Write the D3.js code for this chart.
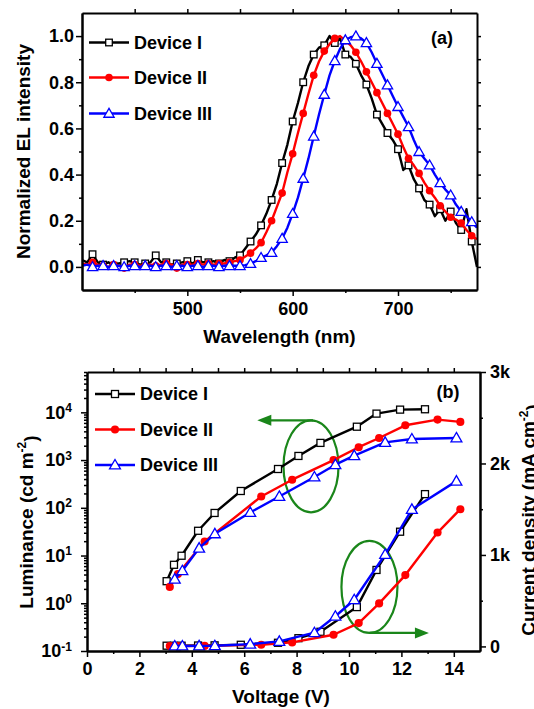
<!DOCTYPE html>
<html>
<head>
<meta charset="utf-8">
<title>EL spectra and L-J-V</title>
<style>
  body, html { margin: 0; padding: 0; background: #fff; }
  svg text { font-family: "Liberation Sans", Arial, sans-serif; font-weight: bold; }
</style>
</head>
<body>
<svg id="svg" width="534" height="709"></svg>
<script src="https://d3js.org/d3.v7.min.js"></script>
<script>
// ---------- data, panel (a): normalized EL spectra ----------
const wavelength = [400, 405, 410, 415, 420, 425, 430, 435, 440, 445, 450, 455, 460, 465, 470, 475,
  480, 485, 490, 495, 500, 505, 510, 515, 520, 525, 530, 535, 540, 545, 550, 555, 560, 565, 570, 575,
  580, 585, 590, 595, 600, 605, 610, 615, 620, 625, 630, 635, 640, 645, 650, 655, 660, 665, 670, 675,
  680, 685, 690, 695, 700, 705, 710, 715, 720, 725, 730, 735, 740, 745, 750, 755, 760, 765, 770, 775]
const dev1EL = [0.03, 0.02, 0.055, 0.02, 0.01, 0.02, 0.005, 0.015, 0.02, 0.025, 0.02, 0.01, 0.015, 0.02, 0.05, 0.02,
  0.02, 0.01, 0.015, 0.02, 0.025, 0.015, 0.03, 0.02, 0.02, 0.025, 0.015, 0.03, 0.025, 0.04, 0.05, 0.08, 0.11, 0.14, 0.18, 0.23,
  0.29, 0.36, 0.45, 0.53, 0.63, 0.71, 0.80, 0.87, 0.92, 0.95, 0.96, 1.0, 0.97, 0.99, 0.92, 0.91, 0.88, 0.83, 0.79, 0.73,
  0.66, 0.62, 0.58, 0.55, 0.51, 0.42, 0.44, 0.38, 0.34, 0.29, 0.27, 0.22, 0.25, 0.20, 0.24, 0.19, 0.16, 0.25, 0.11, 0.0]
const dev2EL = [0.015, 0.01, 0.02, 0.01, 0.005, 0.0, 0.01, 0.005, -0.005, 0.01, 0.01, 0.005, 0.005, 0.01, 0.005, 0.01,
  0.015, 0.01, -0.005, 0.01, 0.01, 0.01, 0.015, 0.01, 0.015, 0.01, 0.015, 0.015, 0.02, 0.025, 0.03, 0.045, 0.06, 0.08, 0.105, 0.15,
  0.2, 0.26, 0.32, 0.41, 0.49, 0.58, 0.665, 0.75, 0.83, 0.89, 0.935, 0.965, 0.99, 1.0, 0.98, 0.96, 0.93, 0.89, 0.845, 0.8,
  0.755, 0.71, 0.665, 0.62, 0.575, 0.52, 0.47, 0.44, 0.405, 0.365, 0.33, 0.3, 0.265, 0.24, 0.215, 0.205, 0.19, 0.16, 0.135, 0.12]
const dev3EL = [0.005, 0.01, 0.0, 0.005, 0.005, 0.0, 0.005, 0.005, 0.0, 0.005, 0.005, 0.0, 0.005, 0.005, 0.0, 0.005,
  0.005, 0.0, 0.005, 0.005, 0.0, 0.005, 0.005, 0.0, 0.005, 0.005, 0.0, 0.005, 0.005, 0.005, 0.005, 0.008, 0.014, 0.025, 0.04, 0.05,
  0.062, 0.09, 0.123, 0.17, 0.231, 0.3, 0.383, 0.47, 0.566, 0.66, 0.747, 0.83, 0.893, 0.945, 0.983, 0.995, 1.0, 0.99, 0.971, 0.93,
  0.881, 0.835, 0.788, 0.74, 0.694, 0.65, 0.607, 0.55, 0.499, 0.47, 0.441, 0.4, 0.364, 0.335, 0.311, 0.27, 0.24, 0.22, 0.195, 0.17]

// ---------- data, panel (b): luminance & current density vs voltage ----------
const dev1V = [3.04, 3.32, 3.61, 4.24, 4.87, 5.87, 7.29, 8.07, 8.91, 10.3, 11.05, 11.95, 12.9]
const dev1L = [2.9, 6.4, 9.9, 33, 78, 225, 650, 1220, 2290, 5000, 9400, 11400, 11600]
const dev1J = [8, 8, 8, 10, 12, 18, 40, 90, 160, 430, 836, 1254, 1665]

const dev2V = [3.16, 3.47, 4.49, 6.65, 7.83, 9.41, 10.37, 11.15, 12.15, 13.38, 14.25]
const dev2L = [2.2, 4.1, 19.7, 173, 388, 1000, 1860, 2900, 5350, 7050, 6300]
const dev2J = [5, 5, 6, 18, 44, 128, 255, 470, 780, 1245, 1500]

const dev3V = [3.35, 3.64, 4.28, 4.88, 6.23, 7.34, 8.68, 9.48, 10.2, 11.38, 12.4, 14.1]
const dev3L = [3.2, 4.8, 14.3, 28.5, 80, 173, 442, 800, 1240, 2350, 2760, 2910]
const dev3J = [5, 5, 6, 8, 25, 55, 150, 330, 510, 1005, 1498, 1807]

const deviceNames = ['Device I', 'Device II', 'Device III']
const elTicks = [0, 0.2, 0.4, 0.6, 0.8, 1.0]
const wlTicks = [500, 600, 700]
const voltTicks = [0, 2, 4, 6, 8, 10, 12, 14]
const lumTicks = [0.1, 1, 10, 100, 1000, 10000]
const jTicks = [0, 1000, 2000, 3000]
const jTickLabels = ['0', '1k', '2k', '3k']

// ---------- drawing ----------
const colors = ['#000000', '#ff0000', '#0000ff']
const shapes = ['square', 'circle', 'triangle']
const green = '#1a861a'
const svg = d3.select('#svg')

function styleAxis(ax, size) {
  ax.attr('font-family', '"Liberation Sans", Arial, sans-serif')
    .attr('font-size', size).attr('font-weight', 'bold')
  ax.select('.domain').attr('stroke-width', 2)
  ax.selectAll('.tick line').attr('stroke-width', 1.5)
  ax.selectAll('.tick text').attr('fill', '#000')
  return ax
}

function addMarker(g, shape, x, y, color, s) {
  if (shape === 'square') {
    g.append('rect').attr('x', x - s / 2).attr('y', y - s / 2).attr('width', s).attr('height', s)
      .attr('fill', '#fff').attr('stroke', color).attr('stroke-width', 1.3)
  } else if (shape === 'circle') {
    g.append('circle').attr('cx', x).attr('cy', y).attr('r', s * 0.58).attr('fill', color)
  } else {
    g.append('path').attr('d', d3.symbol(d3.symbolTriangle, s * s * 1.05)())
      .attr('transform', `translate(${x},${y + 0.8})`)
      .attr('fill', '#fff').attr('stroke', color).attr('stroke-width', 1.3)
  }
}

function legend(g, x0, x1, tx, rows, s) {
  deviceNames.forEach((name, i) => {
    g.append('line').attr('x1', x0).attr('x2', x1).attr('y1', rows[i]).attr('y2', rows[i])
      .attr('stroke', colors[i]).attr('stroke-width', 2.5)
    addMarker(g, shapes[i], (x0 + x1) / 2, rows[i], colors[i], s)
    g.append('text').attr('x', tx).attr('y', rows[i]).attr('dy', '0.36em')
      .attr('font-size', 18).text(name)
  })
}

// ===== panel (a) =====
const pa = { left: 82, right: 477, top: 13, bottom: 290 }
const xA = d3.scaleLinear().domain([400, 775]).range([pa.left, pa.right])
const yA = d3.scaleLinear().domain([-0.1, 1.1]).range([pa.bottom, pa.top])
const gA = svg.append('g')

gA.append('clipPath').attr('id', 'clipA').append('rect')
  .attr('x', pa.left).attr('y', pa.top).attr('width', pa.right - pa.left).attr('height', pa.bottom - pa.top)

const elSeries = [dev1EL, dev2EL, dev3EL]
const plotA = gA.append('g').attr('clip-path', 'url(#clipA)')
const lineA = d3.line().x((d, i) => xA(wavelength[i])).y(d => yA(d))
elSeries.forEach((ser, k) => {
  plotA.append('path').datum(ser).attr('d', lineA)
    .attr('fill', 'none').attr('stroke', colors[k]).attr('stroke-width', 2.4).attr('stroke-linejoin', 'round')
  const mg = plotA.append('g')
  ser.forEach((v, i) => {
    const w = wavelength[i]
    if (w % 10 === 0 && w >= 410 && w <= 770) addMarker(mg, shapes[k], xA(w), yA(v), colors[k], 6.6)
  })
})

styleAxis(gA.append('g').attr('transform', `translate(0,${pa.bottom})`)
  .call(d3.axisBottom(xA).tickValues(wlTicks).tickSize(6).tickPadding(6).tickSizeOuter(0)), 18)
styleAxis(gA.append('g').attr('transform', `translate(0,${pa.bottom})`)
  .call(d3.axisBottom(xA).tickValues([450, 550, 650, 750]).tickSize(3).tickFormat('').tickSizeOuter(0)), 18)
styleAxis(gA.append('g').attr('transform', `translate(0,${pa.top})`)
  .call(d3.axisTop(xA).tickValues([450, 500, 550, 600, 650, 700, 750]).tickSize(4).tickFormat('').tickSizeOuter(0)), 18)
styleAxis(gA.append('g').attr('transform', `translate(${pa.left},0)`)
  .call(d3.axisLeft(yA).tickValues(elTicks).tickFormat(d3.format('.1f')).tickSize(6).tickPadding(2).tickSizeOuter(0)), 18)
styleAxis(gA.append('g').attr('transform', `translate(${pa.left},0)`)
  .call(d3.axisLeft(yA).tickValues([0.1, 0.3, 0.5, 0.7, 0.9]).tickSize(3).tickFormat('').tickSizeOuter(0)), 18)
styleAxis(gA.append('g').attr('transform', `translate(${pa.right},0)`)
  .call(d3.axisRight(yA).tickValues([0, 0.1, 0.2, 0.3, 0.4, 0.5, 0.6, 0.7, 0.8, 0.9, 1.0]).tickSize(4).tickFormat('').tickSizeOuter(0)), 18)

legend(gA, 89, 129, 134, [42.5, 77.5, 113.5], 6.6)
gA.append('text').attr('x', 442).attr('y', 44).attr('text-anchor', 'middle').attr('font-size', 18).text('(a)')
gA.append('text').attr('x', (pa.left + pa.right) / 2).attr('y', 343).attr('text-anchor', 'middle')
  .attr('font-size', 19).text('Wavelength (nm)')
gA.append('text').attr('transform', `translate(23,${(pa.top + pa.bottom) / 2}) rotate(-90)`)
  .attr('text-anchor', 'middle').attr('dy', '0.36em').attr('font-size', 19).text('Normalized EL intensity')

// ===== panel (b) =====
const pb = { left: 87, right: 480, top: 372, bottom: 651 }
const xB = d3.scaleLinear().domain([0, 15]).range([pb.left, pb.right])
const yL = d3.scaleLog().domain([0.1, 70000]).range([pb.bottom, pb.top])
const yJ = d3.scaleLinear().domain([-50, 3000]).range([pb.bottom, pb.top])
const gB = svg.append('g')

// green guide ellipses and arrows
const e1 = { cx: xB(8.55), cy: yL(740), rx: 27.5, ry: 46 }
const e2 = { cx: xB(10.78), cy: yJ(650), rx: 28, ry: 46 }
;[e1, e2].forEach(e => {
  gB.append('ellipse').attr('cx', e.cx).attr('cy', e.cy).attr('rx', e.rx).attr('ry', e.ry)
    .attr('fill', 'none').attr('stroke', green).attr('stroke-width', 2.2)
})
function arrow(x0, x1, y) {
  const dir = Math.sign(x1 - x0)
  gB.append('line').attr('x1', x0).attr('x2', x1 - dir * 10).attr('y1', y).attr('y2', y)
    .attr('stroke', green).attr('stroke-width', 2.2)
  gB.append('path').attr('d', `M${x1},${y} L${x1 - dir * 14},${y - 5.5} L${x1 - dir * 14},${y + 5.5} Z`)
    .attr('fill', green)
}
arrow(e1.cx + 2, xB(6.5), e1.cy - e1.ry)
arrow(e2.cx, xB(13.05), e2.cy + e2.ry)

const vSeries = [dev1V, dev2V, dev3V]
const lSeries = [dev1L, dev2L, dev3L]
const jSeries = [dev1J, dev2J, dev3J]
const plotB = gB.append('g')
vSeries.forEach((vs, k) => {
  const lumLine = d3.line().x((d, i) => xB(vs[i])).y(d => yL(d))
  const jLine = d3.line().x((d, i) => xB(vs[i])).y(d => yJ(d))
  ;[[lSeries[k], lumLine, yL], [jSeries[k], jLine, yJ]].forEach(([ser, ln, ys]) => {
    plotB.append('path').datum(ser).attr('d', ln)
      .attr('fill', 'none').attr('stroke', colors[k]).attr('stroke-width', 2.4).attr('stroke-linejoin', 'round')
    const mg = plotB.append('g')
    ser.forEach((v, i) => addMarker(mg, shapes[k], xB(vs[i]), ys(v), colors[k], 7))
  })
})

// axes
styleAxis(gB.append('g').attr('transform', `translate(0,${pb.bottom})`)
  .call(d3.axisBottom(xB).tickValues(voltTicks).tickSize(6).tickPadding(5).tickSizeOuter(0)), 18)
styleAxis(gB.append('g').attr('transform', `translate(0,${pb.bottom})`)
  .call(d3.axisBottom(xB).tickValues([1, 3, 5, 7, 9, 11, 13]).tickSize(3).tickFormat('').tickSizeOuter(0)), 18)
styleAxis(gB.append('g').attr('transform', `translate(0,${pb.top})`)
  .call(d3.axisTop(xB).tickValues([1, 2, 3, 4, 5, 6, 7, 8, 9, 10, 11, 12, 13, 14]).tickSize(4).tickFormat('').tickSizeOuter(0)), 18)

const lumMinor = []
lumTicks.forEach(d => { for (let m = 2; m <= 9; m++) if (d * m <= 70000) lumMinor.push(d * m) })
const leftAx = styleAxis(gB.append('g').attr('transform', `translate(${pb.left},0)`)
  .call(d3.axisLeft(yL).tickValues(lumTicks).tickFormat(() => '').tickSize(6).tickPadding(9).tickSizeOuter(0)), 18)
leftAx.selectAll('.tick text').each(function (d) {
  const t = d3.select(this)
  t.append('tspan').text('10')
  t.append('tspan').attr('dy', '-0.55em').attr('font-size', 12).text(Math.round(Math.log10(d)))
})
styleAxis(gB.append('g').attr('transform', `translate(${pb.left},0)`)
  .call(d3.axisLeft(yL).tickValues(lumMinor).tickSize(3).tickFormat('').tickSizeOuter(0)), 18)

styleAxis(gB.append('g').attr('transform', `translate(${pb.right},0)`)
  .call(d3.axisRight(yJ).tickValues(jTicks).tickFormat((d, i) => jTickLabels[i]).tickSize(6).tickPadding(4).tickSizeOuter(0)), 18)
styleAxis(gB.append('g').attr('transform', `translate(${pb.right},0)`)
  .call(d3.axisRight(yJ).tickValues([500, 1500, 2500]).tickSize(3).tickFormat('').tickSizeOuter(0)), 18)

legend(gB, 95, 135, 140, [394, 429.5, 465], 7)
gB.append('text').attr('x', 448).attr('y', 398).attr('text-anchor', 'middle').attr('font-size', 18).text('(b)')
gB.append('text').attr('x', 281).attr('y', 703).attr('text-anchor', 'middle')
  .attr('font-size', 19).text('Voltage (V)')

const lumTitle = gB.append('text').attr('transform', 'translate(26,522) rotate(-90)')
  .attr('text-anchor', 'middle').attr('dy', '0.36em').attr('font-size', 19)
lumTitle.append('tspan').text('Luminance (cd m')
lumTitle.append('tspan').attr('dy', '-0.55em').attr('font-size', 12).text('-2')
lumTitle.append('tspan').attr('dy', '0.55em').text(')')

const jTitle = gB.append('text').attr('transform', 'translate(528,520) rotate(-90)')
  .attr('text-anchor', 'middle').attr('dy', '0.36em').attr('font-size', 19)
jTitle.append('tspan').text('Current density (mA cm')
jTitle.append('tspan').attr('dy', '-0.55em').attr('font-size', 12).text('-2')
jTitle.append('tspan').attr('dy', '0.55em').text(')')
</script>
</body>
</html>
